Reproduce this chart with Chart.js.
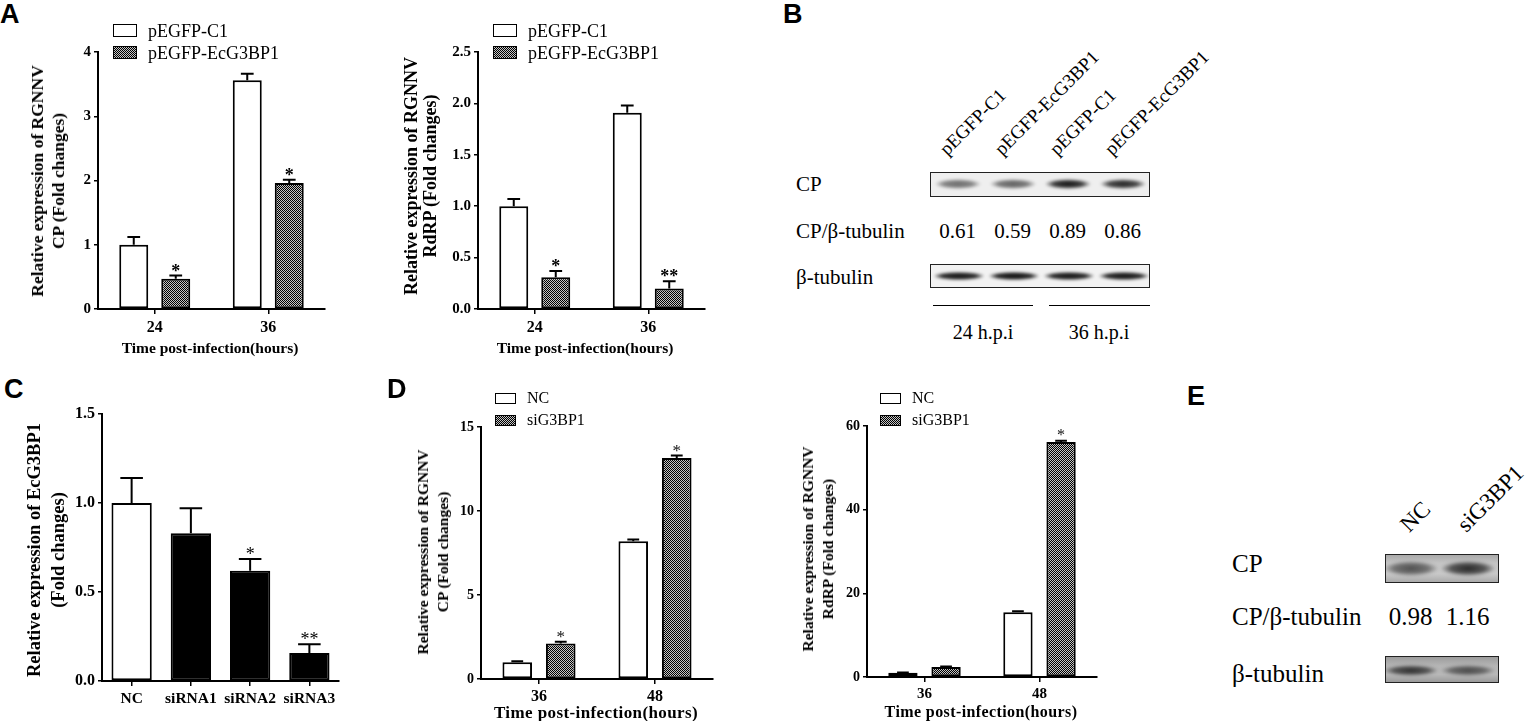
<!DOCTYPE html>
<html><head><meta charset="utf-8">
<script src="https://cdn.jsdelivr.net/npm/chart.js@4.4.0/dist/chart.umd.min.js"></script>
<style>
body{margin:0;background:#fff;width:1539px;height:721px;position:relative;overflow:hidden;font-family:"Liberation Serif","Times New Roman",serif;color:#000}
.t{position:absolute;white-space:nowrap;line-height:1}
.pl{position:absolute;font-family:"Liberation Sans",Arial,sans-serif;font-weight:bold;font-size:27px;line-height:1}
.yt{position:absolute;transform:translate(-50%,-50%) rotate(-90deg);font-weight:bold;text-align:center;white-space:nowrap}
.xt{position:absolute;transform:translate(-50%,-50%);font-weight:bold;white-space:nowrap;line-height:1}
.sw{position:absolute;border:1.5px solid #000;box-sizing:border-box;background:#fff}
.hatch{background:repeating-conic-gradient(#000 0% 25%, #c4c4c4 0% 50%) 0 0/2px 2px}
.box{position:absolute;border:1.5px solid #222;box-sizing:border-box;overflow:hidden}
.band{position:absolute;border-radius:50%;filter:blur(1.5px)}
.rot{position:absolute;white-space:nowrap;line-height:1;transform-origin:0 100%;transform:rotate(-45deg)}
.hl{position:absolute;height:0;border-top:1.5px solid #000}
</style>
</head>
<body>
<script>
// ---------------- DATA ----------------
const timeCatsA = ['24', '36'];
const aCpCtrl = [1.0, 3.56];   const aCpCtrlErr = [0.12, 0.10];
const aCpOver = [0.47, 1.96];  const aCpOverErr = [0.05, 0.05];
const aCpOverSig = ['*', '*'];
const aRdCtrl = [1.0, 1.91];   const aRdCtrlErr = [0.07, 0.07];
const aRdOver = [0.31, 0.20];  const aRdOverErr = [0.06, 0.07];
const aRdOverSig = ['*', '**'];
const aCpTicks = [0, 1, 2, 3, 4];             const aCpTickLabels = ['0', '1', '2', '3', '4'];
const aRdTicks = [0, 0.5, 1, 1.5, 2, 2.5];     const aRdTickLabels = ['0.0', '0.5', '1.0', '1.5', '2.0', '2.5'];

const cCats = ['NC', 'siRNA1', 'siRNA2', 'siRNA3'];
const cVals = [1.0, 0.83, 0.62, 0.157];
const cErr  = [0.14, 0.14, 0.065, 0.05];
const cSig  = ['', '', '*', '**'];
const cTicks = [0, 0.5, 1, 1.5];  const cTickLabels = ['0.0', '0.5', '1.0', '1.5'];

const timeCatsD = ['36', '48'];
const dCpNC = [1.0, 8.2];    const dCpNCErr = [0.05, 0.1];
const dCpSi = [2.12, 13.15]; const dCpSiErr = [0.1, 0.15];
const dCpSiSig = ['*', '*'];
const dRdNC = [1.0, 15.5];   const dRdNCErr = [0.1, 0.2];
const dRdSi = [2.4, 56.2];   const dRdSiErr = [0.1, 0.3];
const dRdSiSig = ['', '*'];
const dCpTicks = [0, 5, 10, 15];   const dCpTickLabels = ['0', '5', '10', '15'];
const dRdTicks = [0, 20, 40, 60];  const dRdTickLabels = ['0', '20', '40', '60'];

const bLanes = ['pEGFP-C1', 'pEGFP-EcG3BP1', 'pEGFP-C1', 'pEGFP-EcG3BP1'];
const bRatios = ['0.61', '0.59', '0.89', '0.86'];
const bCpIntensity = [0.55, 0.6, 0.92, 0.85];
const bTubIntensity = [0.9, 0.92, 0.9, 0.9];
const eLanes = ['NC', 'siG3BP1'];
const eRatios = ['0.98', '1.16'];
const eCpIntensity = [0.6, 0.8];
const eTubIntensity = [0.75, 0.6];

// ---------------- HELPERS ----------------
function el(cls, css, txt){ const d=document.createElement('div'); d.className=cls; Object.assign(d.style, css); if(txt!==undefined) d.innerHTML=txt; document.body.appendChild(d); return d; }
function makePattern(ctx){ const pc=document.createElement('canvas'); pc.width=2; pc.height=2; const g=pc.getContext('2d'); g.fillStyle='#c4c4c4'; g.fillRect(0,0,2,2); g.fillStyle='#000'; g.fillRect(0,0,1,1); g.fillRect(1,1,1,1); return ctx.createPattern(pc,'repeat'); }

const errPlugin = {
  id:'errbars',
  afterDatasetsDraw(chart){
    const {ctx} = chart; const y = chart.scales.y; const o = chart.options.plugins.errbars;
    chart.data.datasets.forEach((ds, di) => {
      const meta = chart.getDatasetMeta(di);
      meta.data.forEach((bar, i) => {
        const v = ds.data[i], e = (ds.err||[])[i]||0;
        const x = bar.x, yt = y.getPixelForValue(v), ye = y.getPixelForValue(v+e);
        const cw = bar.width*o.cap;
        ctx.save(); ctx.strokeStyle='#000'; ctx.lineWidth=2;
        if (e>0){ ctx.beginPath(); ctx.moveTo(x,yt); ctx.lineTo(x,ye); ctx.moveTo(x-cw,ye); ctx.lineTo(x+cw,ye); ctx.stroke(); }
        const s = (ds.stars||[])[i];
        if (s){ ctx.fillStyle=o.starColor||'#000'; ctx.font=o.starFont; ctx.textAlign='center'; ctx.textBaseline='alphabetic'; ctx.fillText(s, x, ye+o.starOff); }
        ctx.restore();
      });
    });
  }
};

function barChart(cfg){
  const YW=60, PT=14, PR=4, XH=40;
  const W = cfg.x1-cfg.x0+YW+PR, H = cfg.yBot-cfg.yTop+PT+XH;
  const c = document.createElement('canvas'); c.width=W; c.height=H;
  Object.assign(c.style,{position:'absolute',left:(cfg.x0-YW)+'px',top:(cfg.yTop-PT)+'px',width:W+'px',height:H+'px'});
  document.body.appendChild(c);
  const ctx = c.getContext('2d'); const pat = makePattern(ctx);
  const datasets = cfg.series.map(s => ({
    data:s.data, err:s.err, stars:s.stars,
    backgroundColor: s.fill ? s.fill.map(f => f==='hatch'?pat:f) : (s.hatch?pat:'#fff'),
    borderColor:'#000', borderWidth:2, borderSkipped:false,
    categoryPercentage:cfg.catPct, barPercentage:cfg.barPct
  }));
  new Chart(ctx,{
    type:'bar',
    data:{labels:cfg.cats, datasets},
    plugins:[errPlugin],
    options:{
      responsive:false, animation:false, devicePixelRatio:1,
      layout:{padding:{top:PT,right:PR,left:0,bottom:0}},
      plugins:{legend:{display:false}, tooltip:{enabled:false}, errbars:{cap:cfg.cap, starFont:cfg.starFont, starOff:cfg.starOff, starColor:cfg.starColor}},
      scales:{
        x:{ offset:true,
            grid:{offset:false, drawOnChartArea:false, drawTicks:true, tickLength:5, color:'#000', lineWidth:1.5},
            border:{display:true, color:'#000', width:2},
            ticks:{color:'#000', padding:cfg.xPad, autoSkip:false, maxRotation:0, minRotation:0, font:{family:'Liberation Serif', weight:'bold', size:cfg.xFont}},
            afterFit(s){ s.height = XH; } },
        y:{ min:0, max:cfg.ticks[cfg.ticks.length-1],
            afterBuildTicks(s){ s.ticks = cfg.ticks.map(v=>({value:v})); },
            grid:{drawOnChartArea:false, drawTicks:true, tickLength:4, color:'#000', lineWidth:1.5},
            border:{display:true, color:'#000', width:2},
            ticks:{color:'#000', padding:3, font:{family:'Liberation Serif', weight:'bold', size:cfg.yFont}, callback:(v,i)=>cfg.tickLabels[i]},
            afterFit(s){ s.width = YW; } }
      }
    }
  });
}

// ---------------- PANEL A ----------------
el('pl',{left:'0px',top:'1px'},'A');
barChart({x0:98,x1:325,yTop:52,yBot:309,cats:timeCatsA,ticks:aCpTicks,tickLabels:aCpTickLabels,
  series:[{data:aCpCtrl,err:aCpCtrlErr},{data:aCpOver,err:aCpOverErr,stars:aCpOverSig,hatch:true}],
  catPct:0.74,barPct:0.69,cap:0.22,xFont:16,yFont:15,xPad:4,starFont:'bold 18px "Liberation Serif"',starOff:1});
el('yt',{left:'48px',top:'181px',fontSize:'17.5px',lineHeight:'21px'},'Relative expression of RGNNV<br>CP (Fold changes)');
el('xt',{left:'210px',top:'348px',fontSize:'15.5px'},'Time post-infection(hours)');
el('sw',{left:'113px',top:'24px',width:'24px',height:'13px'});
el('sw hatch',{left:'113px',top:'46px',width:'24px',height:'13px'});
el('t',{left:'148px',top:'31px',fontSize:'18px',transform:'translateY(-50%)'},'pEGFP-C1');
el('t',{left:'148px',top:'53px',fontSize:'18px',transform:'translateY(-50%)'},'pEGFP-EcG3BP1');

barChart({x0:478,x1:705,yTop:52,yBot:309,cats:timeCatsA,ticks:aRdTicks,tickLabels:aRdTickLabels,
  series:[{data:aRdCtrl,err:aRdCtrlErr},{data:aRdOver,err:aRdOverErr,stars:aRdOverSig,hatch:true}],
  catPct:0.74,barPct:0.69,cap:0.22,xFont:16,yFont:15,xPad:4,starFont:'bold 18px "Liberation Serif"',starOff:1});
el('yt',{left:'421px',top:'176px',fontSize:'18px',lineHeight:'19px'},'Relative expression of RGNNV<br>RdRP (Fold changes)');
el('xt',{left:'585px',top:'348px',fontSize:'15.5px'},'Time post-infection(hours)');
el('sw',{left:'493px',top:'24px',width:'24px',height:'13px'});
el('sw hatch',{left:'493px',top:'46px',width:'24px',height:'13px'});
el('t',{left:'528px',top:'31px',fontSize:'18px',transform:'translateY(-50%)'},'pEGFP-C1');
el('t',{left:'528px',top:'53px',fontSize:'18px',transform:'translateY(-50%)'},'pEGFP-EcG3BP1');

// ---------------- PANEL B ----------------
el('pl',{left:'783px',top:'1px'},'B');
(function(){
  const bx=930, bw=220;
  const lane = i => bx + bw*(i+0.5)/4;
  bLanes.forEach((s,i)=> el('rot',{left:(lane(i)-8)+'px',top:'139px',fontSize:'19px',height:'20px'},s));
  const cp = el('box',{left:bx+'px',top:'172px',width:bw+'px',height:'25px',background:'#efefef'});
  bCpIntensity.forEach((a,i)=>{ const b=document.createElement('div'); b.className='band';
    Object.assign(b.style,{left:(lane(i)-bx-24)+'px',top:'6px',width:'46px',height:'10px',background:`radial-gradient(ellipse at center, rgba(0,0,0,${a}) 0%, rgba(0,0,0,${a*0.8}) 45%, rgba(0,0,0,0) 72%)`}); cp.appendChild(b); });
  el('t',{left:'796px',top:'184px',fontSize:'21px',transform:'translateY(-50%)'},'CP');
  el('t',{left:'796px',top:'231px',fontSize:'21px',transform:'translateY(-50%)'},'CP/β-tubulin');
  bRatios.forEach((s,i)=> el('t',{left:lane(i)+'px',top:'231px',fontSize:'21px',transform:'translate(-50%,-50%)'},s));
  const tb = el('box',{left:bx+'px',top:'264px',width:bw+'px',height:'24px',background:'#f2f2f2'});
  bTubIntensity.forEach((a,i)=>{ const b=document.createElement('div'); b.className='band';
    Object.assign(b.style,{left:(lane(i)-bx-25)+'px',top:'7px',width:'50px',height:'8px',background:`radial-gradient(ellipse at center, rgba(0,0,0,${a}) 0%, rgba(0,0,0,${a*0.9}) 50%, rgba(0,0,0,0) 75%)`}); tb.appendChild(b); });
  el('t',{left:'796px',top:'277px',fontSize:'21px',transform:'translateY(-50%)'},'β-tubulin');
  el('hl',{left:'933px',top:'305px',width:'100px'});
  el('hl',{left:'1049px',top:'305px',width:'101px'});
  el('t',{left:'983px',top:'332px',fontSize:'20px',transform:'translate(-50%,-50%)'},'24 h.p.i');
  el('t',{left:'1099px',top:'332px',fontSize:'20px',transform:'translate(-50%,-50%)'},'36 h.p.i');
})();

// ---------------- PANEL C ----------------
el('pl',{left:'4px',top:'376px'},'C');
barChart({x0:102,x1:339,yTop:414,yBot:681,cats:cCats,ticks:cTicks,tickLabels:cTickLabels,
  series:[{data:cVals,err:cErr,stars:cSig,fill:['#fff','#000','#000','#000']}],
  catPct:0.8,barPct:0.85,cap:0.28,xFont:15.5,yFont:16,xPad:4,starFont:'18px "Liberation Serif"',starOff:1});
el('yt',{left:'46px',top:'550px',fontSize:'18.5px',lineHeight:'24px'},'Relative expression of EcG3BP1<br>(Fold changes)');

// ---------------- PANEL D ----------------
el('pl',{left:'387px',top:'376px'},'D');
barChart({x0:481,x1:713,yTop:427,yBot:679,cats:timeCatsD,ticks:dCpTicks,tickLabels:dCpTickLabels,
  series:[{data:dCpNC,err:dCpNCErr},{data:dCpSi,err:dCpSiErr,stars:dCpSiSig,hatch:true}],
  catPct:0.75,barPct:0.68,cap:0.2,xFont:16,yFont:14,xPad:3,starFont:'17px "Liberation Serif"',starOff:0,starColor:'#111'});
el('yt',{left:'433px',top:'552px',fontSize:'15.5px',lineHeight:'20px'},'Relative expression of RGNNV<br>CP (Fold changes)');
el('xt',{left:'596px',top:'712px',fontSize:'17px',letterSpacing:'0.4px'},'Time post-infection(hours)');
el('sw',{left:'495px',top:'393px',width:'21px',height:'11px'});
el('sw hatch',{left:'495px',top:'415px',width:'21px',height:'11px'});
el('t',{left:'527px',top:'398px',fontSize:'16px',transform:'translateY(-50%)'},'NC');
el('t',{left:'527px',top:'420px',fontSize:'16px',transform:'translateY(-50%)'},'siG3BP1');

barChart({x0:867,x1:1097,yTop:426,yBot:677,cats:timeCatsD,ticks:dRdTicks,tickLabels:dRdTickLabels,
  series:[{data:dRdNC,err:dRdNCErr},{data:dRdSi,err:dRdSiErr,stars:dRdSiSig,hatch:true}],
  catPct:0.75,barPct:0.68,cap:0.2,xFont:15,yFont:14,xPad:3,starFont:'16px "Liberation Serif"',starOff:-1,starColor:'#111'});
el('yt',{left:'818px',top:'549px',fontSize:'15.5px',lineHeight:'20px'},'Relative expression of RGNNV<br>RdRP (Fold changes)');
el('xt',{left:'981px',top:'712px',fontSize:'16px',letterSpacing:'0.4px'},'Time post-infection(hours)');
el('sw',{left:'880px',top:'393px',width:'21px',height:'11px'});
el('sw hatch',{left:'880px',top:'415px',width:'21px',height:'11px'});
el('t',{left:'912px',top:'398px',fontSize:'16px',transform:'translateY(-50%)'},'NC');
el('t',{left:'912px',top:'420px',fontSize:'16px',transform:'translateY(-50%)'},'siG3BP1');

// ---------------- PANEL E ----------------
el('pl',{left:'1187px',top:'383px'},'E');
(function(){
  const bx=1385, bw=114;
  const lane = i => bx + bw*(i+0.5)/2 - 4;
  eLanes.forEach((s,i)=> el('rot',{left:(lane(i)+2)+'px',top:'513px',fontSize:'23px',height:'23px'},s));
  const cp = el('box',{left:bx+'px',top:'554px',width:bw+'px',height:'29px',background:'linear-gradient(#a9a9a9,#c4c4c4 30%,#c8c8c8 70%,#aaa)'});
  eCpIntensity.forEach((a,i)=>{ const b=document.createElement('div'); b.className='band';
    Object.assign(b.style,{left:(lane(i)-bx-27)+'px',top:'6px',width:'54px',height:'15px',background:`radial-gradient(ellipse at center, rgba(0,0,0,${a}) 0%, rgba(0,0,0,${a*0.7}) 45%, rgba(0,0,0,0) 72%)`}); cp.appendChild(b); });
  el('t',{left:'1232px',top:'563px',fontSize:'25px',transform:'translateY(-50%)'},'CP');
  el('t',{left:'1232px',top:'616px',fontSize:'25px',transform:'translateY(-50%)'},'CP/β-tubulin');
  eRatios.forEach((s,i)=> el('t',{left:(lane(i)+1)+'px',top:'616px',fontSize:'25px',transform:'translate(-50%,-50%)'},s));
  const tb = el('box',{left:bx+'px',top:'656px',width:bw+'px',height:'27px',background:'linear-gradient(#9c9c9c,#b5b5b5 35%,#b8b8b8 70%,#9a9a9a)'});
  eTubIntensity.forEach((a,i)=>{ const b=document.createElement('div'); b.className='band';
    Object.assign(b.style,{left:(lane(i)-bx-27)+'px',top:'8px',width:'54px',height:'11px',background:`radial-gradient(ellipse at center, rgba(0,0,0,${a}) 0%, rgba(0,0,0,${a*0.7}) 45%, rgba(0,0,0,0) 72%)`}); tb.appendChild(b); });
  el('t',{left:'1232px',top:'673px',fontSize:'25px',transform:'translateY(-50%)'},'β-tubulin');
})();
</script>
</body></html>
